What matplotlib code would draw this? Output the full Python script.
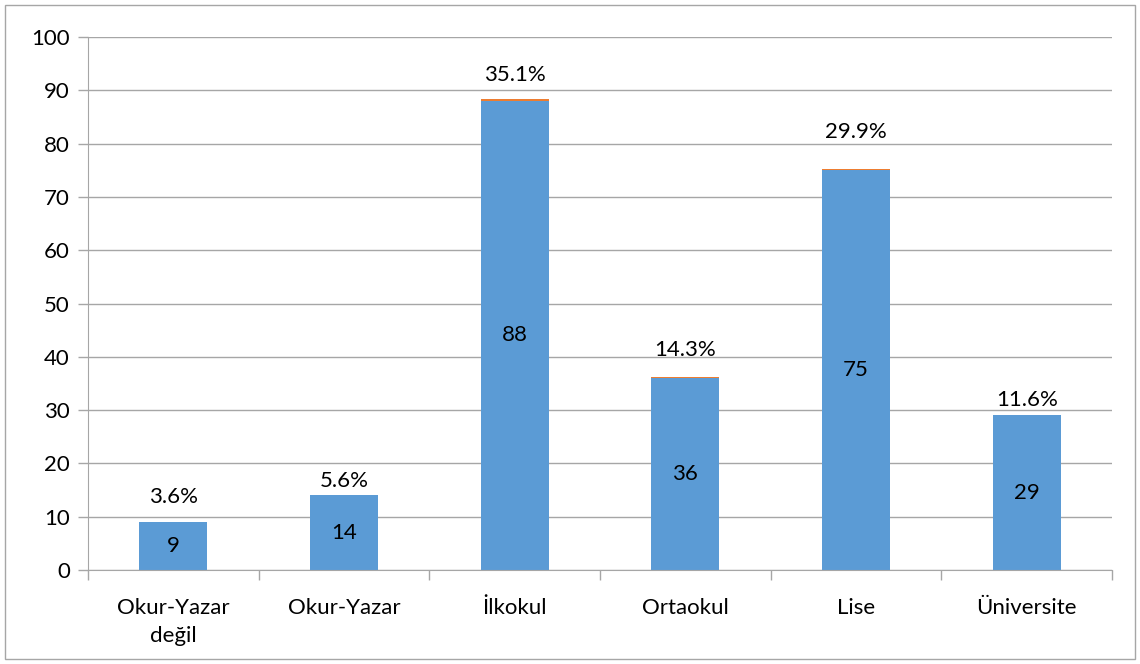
import matplotlib.pyplot as plt
from matplotlib.patches import Rectangle

categories = ['Okur-Yazar\ndeğil', 'Okur-Yazar', 'İlkokul', 'Ortaokul', 'Lise', 'Üniversite']
counts = [9, 14, 88, 36, 75, 29]
percents = [3.6, 5.6, 35.1, 14.3, 29.9, 11.6]

# label offsets above the bars (pixels), as placed in the original
pct_offsets = [25, 14, 24, 27, 37, 15]

plt.rcParams['font.family'] = ['Lato', 'DejaVu Sans']

fig = plt.figure(figsize=(11.4, 6.64), dpi=100)
ax = fig.add_axes([88 / 1140, 94 / 664, 1024 / 1140, 533 / 664])

x = range(len(categories))
frac = [p / 100 for p in percents]
ax.bar(x, counts, width=0.4, color='#5b9bd5', zorder=2)
ax.bar(x, frac, width=0.4, bottom=counts, color='#ed7d31', zorder=2)

for i, (c, p) in enumerate(zip(counts, percents)):
    ax.text(i, c / 2, str(c), ha='center', va='center', fontsize=16, color='black', zorder=3)
    ax.annotate(f'{p}%', (i, c + p / 100), xytext=(0, pct_offsets[i]), textcoords='offset pixels',
                ha='center', va='center', fontsize=16, color='black')

ax.set_xlim(-0.5, len(categories) - 0.5)
ax.set_ylim(0, 100)
ax.set_yticks(range(0, 101, 10))
ax.yaxis.grid(True, color='#a6a6a6', linewidth=1, zorder=0)
ax.set_xticks(x)
ax.set_xticklabels(categories, fontsize=16, linespacing=1.5)
ax.set_xticks([i + 0.5 for i in range(-1, len(categories))], minor=True)
ax.tick_params(axis='x', which='major', length=0, pad=20)
ax.tick_params(axis='x', which='minor', length=7, color='#a6a6a6', width=1)
ax.tick_params(axis='y', length=7, color='#a6a6a6', width=1, labelsize=16, pad=6)

for s in ['top', 'right']:
    ax.spines[s].set_visible(False)
for s in ['left', 'bottom']:
    ax.spines[s].set_color('#a6a6a6')

fig.patches.append(Rectangle((5 / 1140, 5 / 664), 1130 / 1140, 654 / 664, transform=fig.transFigure,
                             fill=False, edgecolor='#a6a6a6', linewidth=1))

fig.savefig('out.png', dpi=100)
